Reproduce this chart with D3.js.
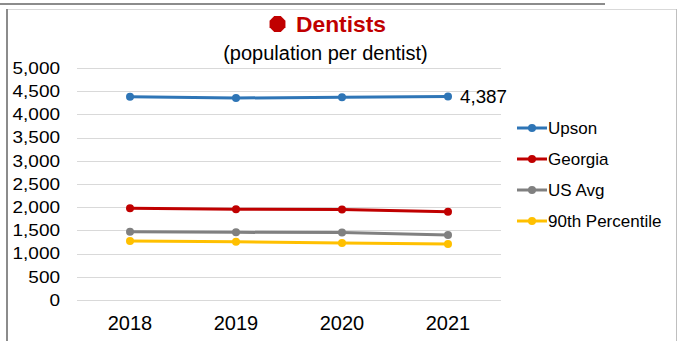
<!DOCTYPE html>
<html>
<head>
<meta charset="utf-8">
<script src="https://cdn.jsdelivr.net/npm/d3@7"></script>
<style>
  html, body { margin: 0; padding: 0; background: #fff; }
  svg { display: block; font-family: "Liberation Sans", Arial, sans-serif; }
</style>
</head>
<body>
<svg id="chart" width="679" height="341"></svg>
<script>
// Population per dentist, by year
const years = ["2018", "2019", "2020", "2021"];
const upson = [4381, 4353, 4370, 4387];
const georgia = [1976, 1954, 1953, 1903];
const usAvg = [1472, 1458, 1455, 1401];
const pct90 = [1271, 1257, 1228, 1207];
const seriesNames = ["Upson", "Georgia", "US Avg", "90th Percentile"];
const yTicks = [0, 500, 1000, 1500, 2000, 2500, 3000, 3500, 4000, 4500, 5000];

const colors = ["#2e75b6", "#c00000", "#808080", "#ffc000"];
const seriesValues = [upson, georgia, usAvg, pct90];

const svg = d3.select("#chart");

// frame lines
svg.append("line").attr("x1", 0).attr("x2", 605).attr("y1", 4).attr("y2", 4)
  .attr("stroke", "#8c8c8c").attr("stroke-width", 2);
svg.append("line").attr("x1", 7).attr("x2", 677).attr("y1", 9.5).attr("y2", 9.5)
  .attr("stroke", "#d9d9d9").attr("stroke-width", 1);
svg.append("line").attr("x1", 7).attr("x2", 7).attr("y1", 9).attr("y2", 341)
  .attr("stroke", "#8c8c8c").attr("stroke-width", 2);
svg.append("line").attr("x1", 676.5).attr("x2", 676.5).attr("y1", 9).attr("y2", 341)
  .attr("stroke", "#bfbfbf").attr("stroke-width", 1);

const x = d3.scaleBand().domain(years).range([77, 501]);
const y = d3.scaleLinear().domain([0, 5000]).range([300, 68]);

// gridlines
svg.append("g").selectAll("line").data(yTicks).join("line")
  .attr("x1", 77).attr("x2", 501)
  .attr("y1", d => Math.round(y(d)) + 0.5).attr("y2", d => Math.round(y(d)) + 0.5)
  .attr("stroke", "#d9d9d9").attr("stroke-width", 1);

// y axis labels
const yAxis = svg.append("g").attr("transform", "translate(60,0)")
  .call(d3.axisLeft(y).tickValues(yTicks).tickFormat(d3.format(",")).tickSize(0).tickPadding(0));
yAxis.select(".domain").remove();
yAxis.selectAll("text")
  .attr("font-size", 16.5).attr("fill", "#000")
  .attr("font-family", "Liberation Sans, Arial, sans-serif")
  .attr("transform", "scale(1.15,1)");

// x axis labels
const xAxis = svg.append("g").attr("transform", "translate(0,316)")
  .call(d3.axisBottom(x).tickSize(0).tickPadding(0));
xAxis.select(".domain").remove();
xAxis.selectAll("text")
  .attr("font-size", 20).attr("fill", "#000")
  .attr("font-family", "Liberation Sans, Arial, sans-serif");

// series lines and markers
const line = d3.line().x((d, i) => x(years[i]) + x.bandwidth() / 2).y(d => y(d));
seriesValues.forEach((vals, k) => {
  const g = svg.append("g");
  g.append("path").datum(vals).attr("d", line)
    .attr("fill", "none").attr("stroke", colors[k]).attr("stroke-width", 3)
    .attr("stroke-linejoin", "round");
  g.selectAll("circle").data(vals).join("circle")
    .attr("cx", (d, i) => x(years[i]) + x.bandwidth() / 2)
    .attr("cy", d => y(d)).attr("r", 4).attr("fill", colors[k]);
});

// value label on the last Upson point
svg.append("text")
  .attr("x", x(years[3]) + x.bandwidth() / 2 + 12)
  .attr("y", y(upson[3]) + 6.5)
  .attr("font-size", 18.8).attr("fill", "#000")
  .text(d3.format(",")(upson[3]));

// legend
const legend = svg.append("g").attr("transform", "translate(517,128)");
seriesNames.forEach((name, k) => {
  const row = legend.append("g").attr("transform", `translate(0,${k * 31})`);
  row.append("line").attr("x1", 0).attr("x2", 30).attr("y1", 0).attr("y2", 0)
    .attr("stroke", colors[k]).attr("stroke-width", 3);
  row.append("circle").attr("cx", 15).attr("cy", 0).attr("r", 4).attr("fill", colors[k]);
  row.append("text").attr("x", 31).attr("y", 6)
    .attr("font-size", 17).attr("fill", "#000").text(name);
});

// title: octagon icon + bold red heading
const oct = d3.range(8).map(i => {
  const a = Math.PI / 8 + i * Math.PI / 4;
  return [277.5 + 8.6 * Math.cos(a), 24 + 8.6 * Math.sin(a)];
});
svg.append("polygon").attr("points", oct.map(p => p.join(",")).join(" "))
  .attr("fill", "#c00000");
svg.append("text").attr("x", 296).attr("y", 31.5)
  .attr("font-size", 22.8).attr("font-weight", "bold").attr("fill", "#c00000")
  .text("Dentists");
svg.append("text").attr("x", 325.5).attr("y", 59.5).attr("text-anchor", "middle")
  .attr("font-size", 20).attr("fill", "#000")
  .text("(population per dentist)");
</script>
</body>
</html>
